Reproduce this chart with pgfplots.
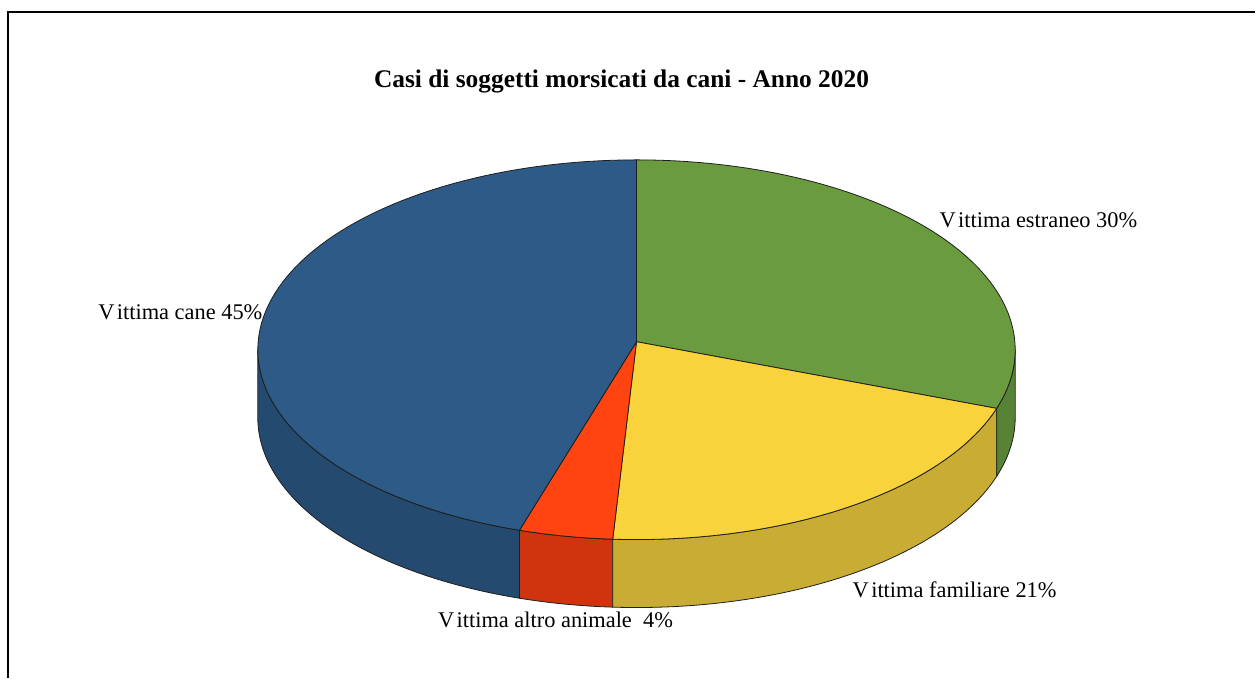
\documentclass[border=0pt]{standalone}
\usepackage{pgfplots}
\usepackage{pgfplotstable}
\pgfplotsset{compat=1.18}
\usepackage{fontspec}
\setmainfont{Liberation Serif}
\definecolor{cBlue}{HTML}{2E5A87}
\definecolor{cBlueS}{HTML}{254A6F}
\definecolor{cGreen}{HTML}{6A9C3F}
\definecolor{cGreenS}{HTML}{578334}
\definecolor{cYellow}{HTML}{F9D33C}
\definecolor{cYellowS}{HTML}{C9AC33}
\definecolor{cOrange}{HTML}{FF4411}
\definecolor{cOrangeS}{HTML}{D0340E}
\definecolor{cEdge}{HTML}{1E1E1E}
\pgfplotstableread{
label value
estraneo 30
familiare 21
altro 4
cane 45
}\piedata
\newcommand{\Vk}{V\kern1.2pt}
\begin{document}
\begin{tikzpicture}
\pgfplotstablegetelem{0}{value}\of\piedata \let\vA\pgfplotsretval
\pgfplotstablegetelem{1}{value}\of\piedata \let\vB\pgfplotsretval
\pgfplotstablegetelem{2}{value}\of\piedata \let\vC\pgfplotsretval
\pgfplotstablegetelem{3}{value}\of\piedata \let\vD\pgfplotsretval
\pgfmathsetmacro{\tA}{90}
\pgfmathsetmacro{\tB}{\tA-3.6*\vA}
\pgfmathsetmacro{\tC}{\tB-3.6*\vB}
\pgfmathsetmacro{\tD}{\tC-3.6*\vC}
\pgfmathsetmacro{\tE}{\tD-3.6*\vD}
\begin{axis}[
  width=628pt, height=339.5pt, scale only axis,
  xmin=0, xmax=1256, ymin=0, ymax=679, y dir=reverse,
  axis lines=none, clip=false,
  samples=90,
  every axis plot/.append style={line width=0.4pt, draw=cEdge, line join=round},
]
\path (0,0) rectangle (1256,679);
% frame
\draw[line width=1pt, draw=black] (8,679) -- (8,12) -- (1256,12);
% sides (front half)
\addplot[fill=cBlueS, domain=-180:\tD] ({637+379*cos(x)}, {350-190*sin(x)})
  -- ++(0pt,-34pt) arc[start angle=\tD, end angle=-180, x radius=189.5pt, y radius=95pt] -- cycle;
\addplot[fill=cOrangeS, domain=\tD:\tC] ({637+379*cos(x)}, {350-190*sin(x)})
  -- ++(0pt,-34pt) arc[start angle=\tC, end angle=\tD, x radius=189.5pt, y radius=95pt] -- cycle;
\addplot[fill=cYellowS, domain=\tC:\tB] ({637+379*cos(x)}, {350-190*sin(x)})
  -- ++(0pt,-34pt) arc[start angle=\tB, end angle=\tC, x radius=189.5pt, y radius=95pt] -- cycle;
\addplot[fill=cGreenS, domain=\tB:0] ({637+379*cos(x)}, {350-190*sin(x)})
  -- ++(0pt,-34pt) arc[start angle=0, end angle=\tB, x radius=189.5pt, y radius=95pt] -- cycle;
% top slices
\addplot[fill=cGreen, domain=\tB:\tA] ({637+379*cos(x)}, {350-190*sin(x)}) -- (637,342) -- cycle;
\addplot[fill=cYellow, domain=\tC:\tB] ({637+379*cos(x)}, {350-190*sin(x)}) -- (637,342) -- cycle;
\addplot[fill=cOrange, domain=\tD:\tC] ({637+379*cos(x)}, {350-190*sin(x)}) -- (637,342) -- cycle;
\addplot[fill=cBlue, domain=\tE:\tD] ({637+379*cos(x)}, {350-190*sin(x)}) -- (637,342) -- cycle;
% title and labels
\node[anchor=base, inner sep=0pt, font=\fontsize{12.7pt}{14pt}\selectfont\bfseries] at (622,88) {Casi di soggetti morsicati da cani - Anno 2020};
\node[anchor=base west, inner sep=0pt, font=\fontsize{11.2pt}{13pt}\selectfont] at (98,320) {\Vk ittima cane 45\%};
\node[anchor=base west, inner sep=0pt, font=\fontsize{11.2pt}{13pt}\selectfont] at (940,228) {\Vk ittima estraneo 30\%};
\node[anchor=base west, inner sep=0pt, font=\fontsize{11.2pt}{13pt}\selectfont] at (438,628) {\Vk ittima altro animale\ \ 4\%};
\node[anchor=base west, inner sep=0pt, font=\fontsize{11.2pt}{13pt}\selectfont] at (853,598) {\Vk ittima familiare 21\%};
\end{axis}
\end{tikzpicture}
\end{document}
